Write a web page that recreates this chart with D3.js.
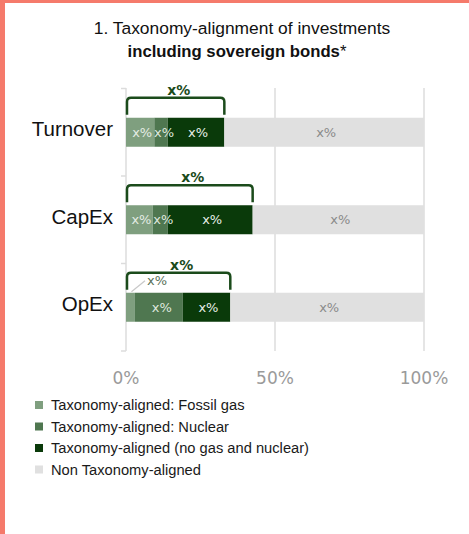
<!DOCTYPE html>
<html>
<head>
<meta charset="utf-8">
<script src="https://cdn.jsdelivr.net/npm/d3@7"></script>
<style>
  html, body { margin: 0; padding: 0; background: #fff; }
  svg { display: block; }
</style>
</head>
<body>
<svg width="469" height="534"></svg>
<script>
// chart data
var categories = ["Turnover", "CapEx", "OpEx"];
var fossilGas = [9.5, 9, 3];
var nuclear = [4.5, 5, 16];
var alignedOther = [19, 28.5, 16];
var segmentLabels = ["x%", "x%", "x%", "x%"];
var totalLabels = ["x%", "x%", "x%"];
var xTicks = [0, 50, 100];
var seriesKeys = ["fossil", "nuclear", "aligned", "non"];
var legendLabels = [
  "Taxonomy-aligned: Fossil gas",
  "Taxonomy-aligned: Nuclear",
  "Taxonomy-aligned (no gas and nuclear)",
  "Non Taxonomy-aligned"
];

var colors = ["#7f9f7f", "#4f7750", "#0a3a0a", "#e0e0e0"];
var labelColors = ["#e4ece4", "#dfe8df", "#e8efe8", "#8a8a8a"];

var rows = categories.map(function(c, i) {
  var a = fossilGas[i] + nuclear[i] + alignedOther[i];
  return { cat: c, fossil: fossilGas[i], nuclear: nuclear[i], aligned: alignedOther[i], non: 100 - a, total: a };
});

var svg = d3.select("svg"),
    width = +svg.attr("width"),
    height = +svg.attr("height");

// frame
svg.append("rect").attr("x", 0).attr("y", 0).attr("width", width).attr("height", 3).attr("fill", "#f57a6b");
svg.append("rect").attr("x", 0).attr("y", 0).attr("width", 5).attr("height", height).attr("fill", "#f57a6b");

// title
var title = svg.append("text")
    .attr("text-anchor", "middle")
    .style("font-family", "Liberation Sans, Arial, sans-serif")
    .attr("fill", "#111");
title.append("tspan").attr("x", 242).attr("y", 34).style("font-size", "17.4px").text("1. Taxonomy-alignment of investments");
var t2 = title.append("tspan").attr("x", 237).attr("y", 57).style("font-size", "16.7px");
t2.append("tspan").style("font-weight", "bold").text("including sovereign bonds");
t2.append("tspan").text("*");

var x = d3.scaleLinear().domain([0, 100]).range([126, 424]);
var y = d3.scaleBand().domain(categories).range([88.5, 351]);
var barH = 29;
function barTop(c) { return y(c) + (y.bandwidth() - barH) / 2; }

// grid lines
svg.append("g").selectAll("line")
  .data(xTicks)
  .enter().append("line")
    .attr("x1", function(d) { return x(d); })
    .attr("x2", function(d) { return x(d); })
    .attr("y1", 88)
    .attr("y2", 351)
    .attr("stroke", "#dcdcdc")
    .attr("stroke-width", 1.5);

// left ticks at band edges
var edges = categories.map(function(c) { return y(c); }).concat([y.range()[1]]);
svg.append("g").selectAll("line")
  .data(edges)
  .enter().append("line")
    .attr("x1", x(0) - 5)
    .attr("x2", x(0))
    .attr("y1", function(d) { return d; })
    .attr("y2", function(d) { return d; })
    .attr("stroke", "#dcdcdc")
    .attr("stroke-width", 1.5);

// x axis labels
svg.append("g").selectAll("text")
  .data(xTicks)
  .enter().append("text")
    .attr("x", function(d) { return x(d); })
    .attr("y", 384)
    .attr("text-anchor", "middle")
    .style("font-family", "DejaVu Sans, Verdana, sans-serif")
    .style("font-size", "17px")
    .attr("fill", "#9a9a9a")
    .text(function(d) { return d + "%"; });

// category labels
svg.append("g").selectAll("text")
  .data(categories)
  .enter().append("text")
    .attr("x", 113)
    .attr("y", function(c) { return barTop(c) + barH / 2 - 3; })
    .attr("dy", "0.35em")
    .attr("text-anchor", "end")
    .style("font-family", "Liberation Sans, Arial, sans-serif")
    .style("font-size", "20.5px")
    .attr("fill", "#111")
    .text(function(c) { return c; });

// stacked bars
var stack = d3.stack().keys(seriesKeys);
var series = stack(rows);

var layer = svg.append("g").selectAll("g")
  .data(series)
  .enter().append("g")
    .attr("fill", function(d, i) { return colors[i]; });

layer.selectAll("rect")
  .data(function(d) { return d; })
  .enter().append("rect")
    .attr("x", function(d) { return x(d[0]); })
    .attr("width", function(d) { return x(d[1]) - x(d[0]); })
    .attr("y", function(d) { return barTop(d.data.cat); })
    .attr("height", barH);

// segment labels (the tiny OpEx fossil slice gets a callout instead)
series.forEach(function(s, si) {
  s.forEach(function(d) {
    var w = x(d[1]) - x(d[0]);
    var ty = barTop(d.data.cat) + barH / 2;
    if (w < 12) {
      svg.append("line")
        .attr("x1", x(d[0]) + w / 2 + 1).attr("y1", barTop(d.data.cat) - 1)
        .attr("x2", x(d[0]) + 19).attr("y2", barTop(d.data.cat) - 12)
        .attr("stroke", "#c8c8c8").attr("stroke-width", 1.2);
      svg.append("text")
        .attr("x", x(d[0]) + 31).attr("y", barTop(d.data.cat) - 12)
        .attr("dy", "0.35em")
        .attr("text-anchor", "middle")
        .style("font-family", "DejaVu Sans, Verdana, sans-serif")
        .style("font-size", "13px")
        .attr("fill", "#5a725a")
        .text(segmentLabels[si]);
      return;
    }
    svg.append("text")
      .attr("x", x((d[0] + d[1]) / 2) + (si == 1 ? 3 : 2))
      .attr("y", ty)
      .attr("dy", "0.35em")
      .attr("text-anchor", "middle")
      .style("font-family", "DejaVu Sans, Verdana, sans-serif")
      .style("font-size", "13px")
      .attr("fill", labelColors[si])
      .text(segmentLabels[si]);
  });
});

// brackets over the aligned total
var lift = 20, r = 4;
rows.forEach(function(d, i) {
  var x0 = x(0) + 1, x1 = x(d.total);
  var yb = barTop(d.cat) - 3, yt = barTop(d.cat) - lift;
  svg.append("path")
    .attr("d", "M" + x0 + "," + yb + "L" + x0 + "," + (yt + r) +
               "Q" + x0 + "," + yt + " " + (x0 + r) + "," + yt +
               "L" + (x1 - r) + "," + yt +
               "Q" + x1 + "," + yt + " " + x1 + "," + (yt + r) +
               "L" + x1 + "," + yb)
    .attr("fill", "none")
    .attr("stroke", "#1b4b1b")
    .attr("stroke-width", 2.5);
  svg.append("text")
    .attr("x", (x0 + x1) / 2 + 3)
    .attr("y", yt - 3)
    .attr("text-anchor", "middle")
    .style("font-family", "DejaVu Sans, Verdana, sans-serif")
    .style("font-weight", "bold")
    .style("font-size", "14px")
    .attr("fill", "#1b4b1b")
    .text(totalLabels[i]);
});

// legend
var legend = svg.append("g").selectAll("g")
  .data(legendLabels)
  .enter().append("g")
    .attr("transform", function(d, i) { return "translate(35," + (405 + i * 21.5) + ")"; });

legend.append("rect")
  .attr("x", 0).attr("y", -4)
  .attr("width", 8).attr("height", 8)
  .attr("fill", function(d, i) { return colors[i]; });

legend.append("text")
  .attr("x", 16)
  .attr("dy", "0.35em")
  .style("font-family", "Liberation Sans, Arial, sans-serif")
  .style("font-size", "14.7px")
  .attr("fill", "#1a1a1a")
  .text(function(d) { return d; });
</script>
</body>
</html>
